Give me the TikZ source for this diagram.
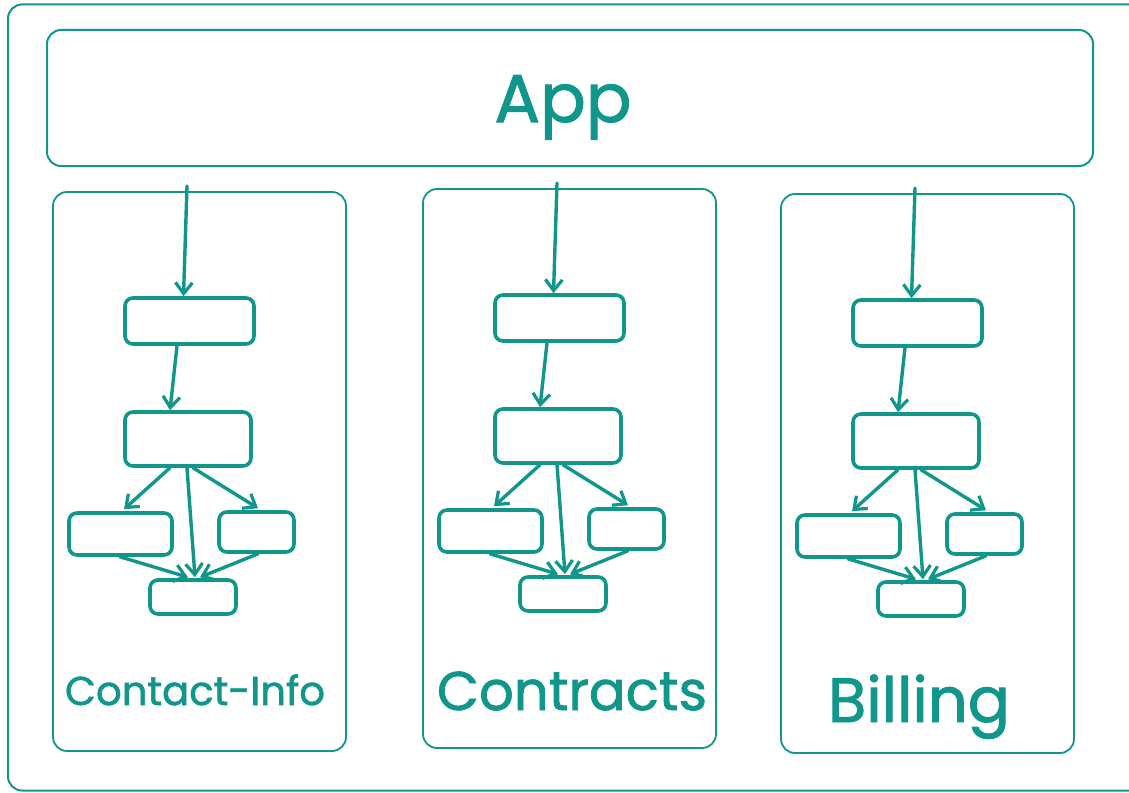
\documentclass[tikz,border=0pt]{standalone}
\usepackage{fontspec}
\setmainfont{Poppins}
\newfontfamily\hand{Poppins}[FakeBold=1.5]
\usepackage{graphicx}
\usetikzlibrary{arrows.meta}
\definecolor{teal}{RGB}{17,150,140}
\tikzset{
  frame/.style={draw=teal, line width=2pt, rounded corners=14pt},
  stepbox/.style={draw=teal, line width=3.6pt, rounded corners=8pt, inner sep=0pt},
  colbox/.style={draw=teal, line width=1.8pt, rounded corners=14pt, inner sep=0pt, minimum width=293pt, minimum height=559pt},
  flow/.style={draw=teal, line width=3.4pt, line cap=round, -{Straight Barb[length=11pt,width=17pt,line width=3.2pt]}},
  label/.style={text=teal, inner sep=0pt, anchor=base, font=\hand}
}
\newcommand{\column}[3]{%
  % #1 suffix, #2 dx, #3 dy
  \begin{scope}[shift={(#2,#3)}]
    \node[colbox] (col#1) at (199.5,471.5) {};
    \coordinate (top#1) at (187,186);
    \node[stepbox, minimum width=129pt, minimum height=46pt] (a#1) at (189.5,321) {};
    \node[stepbox, minimum width=126pt, minimum height=54pt] (b#1) at (188,439) {};
    \node[stepbox, minimum width=103pt, minimum height=42pt] (c#1) at (120.5,534) {};
    \node[stepbox, minimum width=75pt, minimum height=40pt] (d#1) at (256.5,532) {};
    \node[stepbox, minimum width=86pt, minimum height=34pt] (e#1) at (193,597) {};
    \draw[flow] (top#1) -- ([xshift=-6pt]a#1.north);
    \draw[flow] ([xshift=-12.5pt]a#1.south) -- ([xshift=-18pt]b#1.north);
    \draw[flow] ([xshift=-18pt]b#1.south) -- ([xshift=3.5pt,yshift=2pt]c#1.north);
    \draw[flow] ([xshift=5pt]b#1.south) -- ([xshift=1.5pt,yshift=2pt]d#1.north);
    \draw[flow] ([xshift=-1pt]b#1.south) -- ([xshift=2pt,yshift=1pt]e#1.north);
    \draw[flow] ([xshift=-0.5pt]c#1.south) -- ([xshift=-5pt,yshift=1pt]e#1.north);
    \draw[flow] ([xshift=1.5pt]d#1.south) -- ([xshift=7pt,yshift=1pt]e#1.north);
  \end{scope}}
\begin{document}
\begin{tikzpicture}[x=1pt,y=-1pt]
  \useasboundingbox (0,0) rectangle (1129,792);
  \begin{scope}
    \clip (0,0) rectangle (1129,792);
    \node[frame, inner sep=0pt, minimum width=1137pt, minimum height=786pt] (outer) at (576.5,397.5) {};
  \end{scope}
  \node[frame, inner sep=0pt, minimum width=1046pt, minimum height=136pt] (app) at (570,98) {};
  \node[label] (apptext) at (563,122) {\resizebox{137pt}{!}{App}};
  \column{1}{0}{0}
  \column{2}{370}{-3}
  \column{3}{728}{2}
  \node[label] (t1) at (195,705) {\resizebox{260pt}{!}{Contact-Info}};
  \node[label] (t2) at (572,710) {\resizebox{270pt}{!}{Contracts}};
  \node[label] (t3) at (919,722) {\resizebox{182pt}{!}{Billing}};
\end{tikzpicture}
\end{document}
